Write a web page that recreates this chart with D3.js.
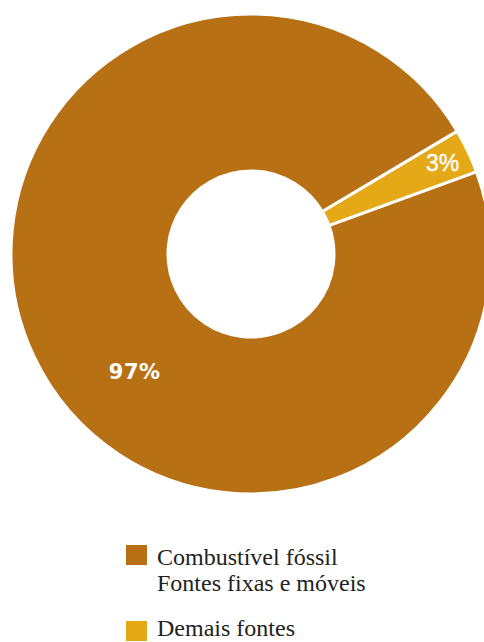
<!DOCTYPE html>
<html lang="pt">
<head>
<meta charset="UTF-8">
<title>Emissões por fonte</title>
<style>
    html, body { margin: 0; padding: 0; background: #fff; }
    svg { display: block; }
    .pct { fill: #fff; }
    .legend text {
        font-family: 'Liberation Serif', 'DejaVu Serif', serif;
        font-size: 24px;
        fill: #222;
    }
</style>
</head>
<body>
<script src="https://d3js.org/d3.v7.min.js"></script>
<script>
    const width = 484;
    const height = 642;

    // data
    const categories = ['Demais fontes', 'Combustível fóssil'];
    const values = [3, 97];
    const colours = ['#e5a817', '#b87014'];
    const legendLabels = [['Combustível fóssil', 'Fontes fixas e móveis'], ['Demais fontes']];
    const legendColours = ['#b87014', '#e5a817'];

    const cx = 251, cy = 254;
    const outerR = 240, innerR = 83;
    const startDeg = 59.2;

    let svg = d3.select('body').append('svg')
        .attr('width', width)
        .attr('height', height);

    let pie = d3.pie()
        .sort(null)
        .startAngle(startDeg * Math.PI / 180)
        .endAngle(startDeg * Math.PI / 180 + 2 * Math.PI);

    let arc = d3.arc()
        .innerRadius(innerR)
        .outerRadius(outerR);

    let chart = svg.append('g')
        .attr('transform', 'translate(' + cx + ',' + cy + ')');

    let slices = pie(values);

    chart.selectAll('path')
        .data(slices)
        .enter().append('path')
        .attr('d', arc)
        .style('fill', function(d, i) { return colours[i]; })
        .style('stroke', '#fff')
        .style('stroke-width', '3px')
        .style('stroke-linejoin', 'miter');

    // small slice label sits near the outer edge
    let labelArc = d3.arc().innerRadius(212).outerRadius(212);
    let small = slices[0];
    let pSmall = labelArc.centroid(small);
    chart.append('text')
        .attr('class', 'pct')
        .attr('x', pSmall[0])
        .attr('y', pSmall[1])
        .attr('text-anchor', 'middle')
        .attr('dy', '0.36em')
        .style('font-family', "'Liberation Sans', Arial, sans-serif")
        .style('font-size', '23px')
        .style('stroke', '#fff')
        .style('stroke-width', '0.4px')
        .text(values[0] + '%');

    // big slice label placed lower-left
    let bigAngle = 224.8 * Math.PI / 180;
    let bigR = 165;
    chart.append('text')
        .attr('class', 'pct')
        .attr('x', bigR * Math.sin(bigAngle))
        .attr('y', -bigR * Math.cos(bigAngle))
        .attr('text-anchor', 'middle')
        .attr('dy', '0.36em')
        .style('font-family', "'DejaVu Sans', sans-serif")
        .style('font-weight', 'bold')
        .style('font-size', '21px')
        .style('letter-spacing', '0.5px')
        .text(values[1] + '%');

    // legend
    let legend = svg.append('g').attr('class', 'legend');
    let legendY = [545, 621];

    legendLabels.forEach(function(lines, i) {
        let g = legend.append('g')
            .attr('transform', 'translate(126,' + legendY[i] + ')');
        g.append('rect')
            .attr('width', 21)
            .attr('height', 20)
            .style('fill', legendColours[i]);
        lines.forEach(function(t, j) {
            g.append('text')
                .attr('x', 31)
                .attr('y', 20 - i * 5 + j * 26)
                .text(t);
        });
    });
</script>
</body>
</html>
